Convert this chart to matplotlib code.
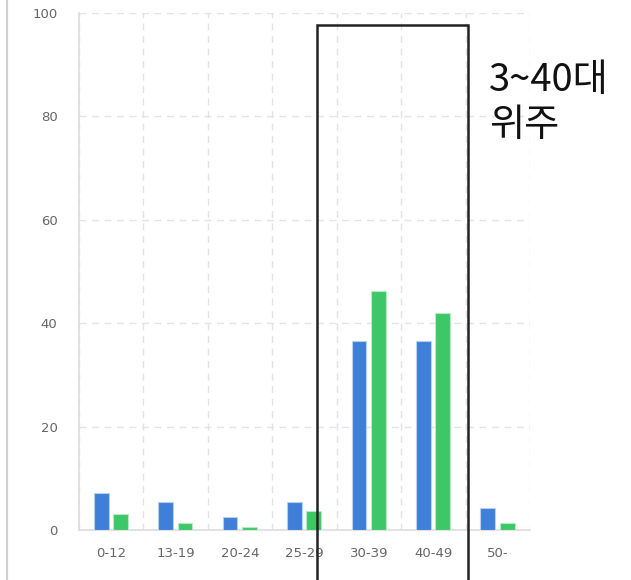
import matplotlib.pyplot as plt
from matplotlib.patches import Rectangle
from matplotlib.lines import Line2D
import numpy as np

# 연령대별 비율
age_groups = ['0-12', '13-19', '20-24', '25-29', '30-39', '40-49', '50-']
series_blue = [7.2, 5.4, 2.5, 5.4, 36.6, 36.6, 4.2]
series_green = [3.1, 1.4, 0.6, 3.7, 46.2, 41.9, 1.4]
y_ticks = [0, 20, 40, 60, 80, 100]

W, H = 631, 580
fig = plt.figure(figsize=(W / 100, H / 100), dpi=100)
ax = fig.add_axes([79 / W, 50 / H, (530 - 79) / W, (530 - 13) / H])

x = np.arange(len(age_groups))
bw = 0.23
ax.bar(x - 0.155, series_blue, width=bw, color='#3f7fd8', edgecolor='#b9cff0', linewidth=0.8, zorder=3)
ax.bar(x + 0.145, series_green, width=bw, color='#3cc866', edgecolor='#b5ecc4', linewidth=0.8, zorder=3)

ax.set_xlim(-0.5, len(age_groups) - 0.5)
ax.set_ylim(0, 100)
ax.set_yticks(y_ticks)
ax.set_xticks(x)
ax.set_xticklabels(age_groups)
ax.set_xticks(np.arange(-0.5, len(age_groups)), minor=True)
ax.tick_params(axis='both', which='both', length=0, colors='#666666', labelsize=9.5)
ax.tick_params(axis='x', pad=12)
ax.tick_params(axis='y', pad=15.5)

ax.grid(True, axis='y', which='major', color='#e2e2ea', linestyle=(0, (5, 4)), linewidth=1, zorder=0)
ax.grid(True, axis='x', which='minor', color='#e2e2ea', linestyle=(0, (5, 4)), linewidth=1, zorder=0)

for side in ['top', 'right']:
    ax.spines[side].set_visible(False)
for side in ['left', 'bottom']:
    ax.spines[side].set_color('#dddddd')
    ax.spines[side].set_linewidth(1.2)

# 강조 박스와 설명
fig.add_artist(Rectangle((317 / W, -0.05), (468 - 317) / W, (555 + 29) / H,
                         transform=fig.transFigure, fill=False,
                         edgecolor='#222222', linewidth=1.8))
fig.text(489 / W, (580 - 61) / H, '3~40대\n위주', ha='left', va='top',
         fontsize=27.5, family=['Noto Sans CJK KR', 'DejaVu Sans'],
         fontweight='light', color='#111111', linespacing=1.2)

# 왼쪽 경계선
fig.add_artist(Line2D([7 / W, 7 / W], [0, 1], transform=fig.transFigure,
                      color='#d0d0d0', linewidth=1.5))

plt.savefig('out.png', dpi=100)
